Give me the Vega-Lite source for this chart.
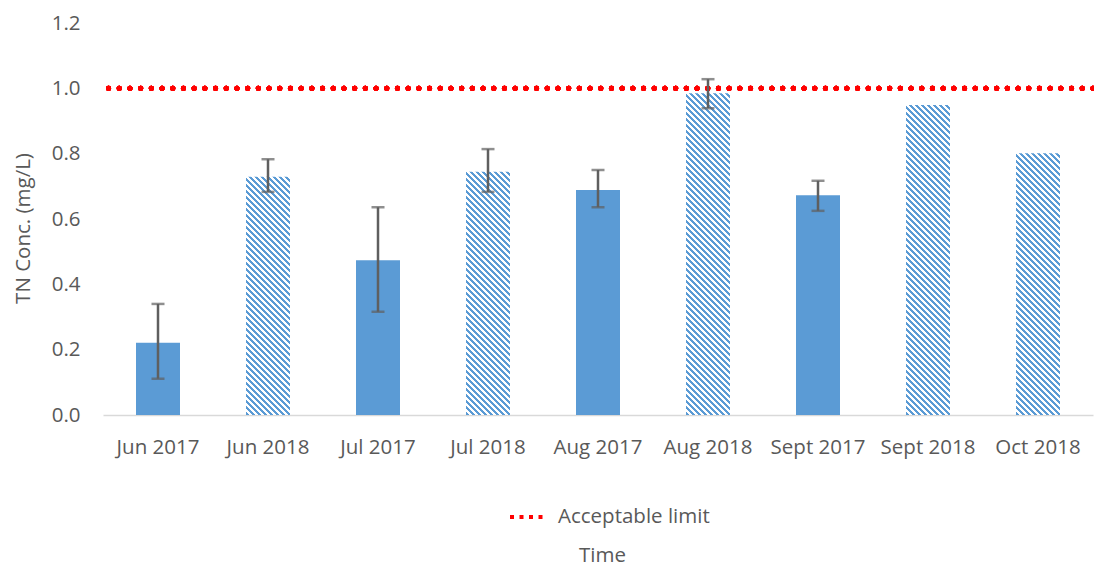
{
  "$schema": "https://vega.github.io/schema/vega-lite/v6.json",
  "autosize": "none",
  "width": 990,
  "height": 392,
  "padding": {"left": 103, "top": 23, "right": 1, "bottom": 156},
  "background": "white",
  "config": {
    "view": {"stroke": null},
    "font": "Open Sans",
    "axis": {"labelColor": "#595959", "titleColor": "#595959", "labelFontSize": 20.5, "titleFontSize": 20.5, "titleFontWeight": "normal", "grid": false, "ticks": false},
    "legend": {"labelColor": "#595959", "labelFontSize": 20.5}
  },
  "data": {
    "values": [
      {"month": "Jun 2017", "year": 2017, "tn": 0.221, "lo": 0.111, "hi": 0.340},
      {"month": "Jun 2018", "year": 2018, "tn": 0.729, "lo": 0.683, "hi": 0.783},
      {"month": "Jul 2017", "year": 2017, "tn": 0.474, "lo": 0.316, "hi": 0.636},
      {"month": "Jul 2018", "year": 2018, "tn": 0.745, "lo": 0.683, "hi": 0.814},
      {"month": "Aug 2017", "year": 2017, "tn": 0.689, "lo": 0.636, "hi": 0.750},
      {"month": "Aug 2018", "year": 2018, "tn": 0.985, "lo": 0.939, "hi": 1.028},
      {"month": "Sept 2017", "year": 2017, "tn": 0.673, "lo": 0.625, "hi": 0.717},
      {"month": "Sept 2018", "year": 2018, "tn": 0.949, "lo": null, "hi": null},
      {"month": "Oct 2018", "year": 2018, "tn": 0.801, "lo": null, "hi": null}
    ]
  },
  "layer": [
    {
      "transform": [{"filter": "datum.year === 2017"}],
      "mark": {"type": "bar", "width": {"band": 0.4}, "fill": "#5b9bd5"},
      "encoding": {
        "x": {
          "field": "month", "type": "nominal",
          "sort": ["Jun 2017", "Jun 2018", "Jul 2017", "Jul 2018", "Aug 2017", "Aug 2018", "Sept 2017", "Sept 2018", "Oct 2018"],
          "scale": {"domain": ["Jun 2017", "Jun 2018", "Jul 2017", "Jul 2018", "Aug 2017", "Aug 2018", "Sept 2017", "Sept 2018", "Oct 2018"], "paddingInner": 0, "paddingOuter": 0},
          "axis": {"title": "Time", "labelAngle": 0, "labelPadding": 22, "domainColor": "#d9d9d9", "domainWidth": 1.5, "titleX": 499, "titleY": 140, "titleBaseline": "middle", "titleAlign": "center"}
        },
        "y": {
          "field": "tn", "type": "quantitative",
          "scale": {"domain": [0, 1.2], "nice": false},
          "axis": {"title": "TN Conc. (mg/L)", "values": [0, 0.2, 0.4, 0.6, 0.8, 1.0, 1.2], "format": ".1f", "domain": false, "labelPadding": 23, "titleX": -80, "titleY": 205, "titleAngle": -90, "titleAlign": "center", "titleBaseline": "middle"}
        }
      }
    },
    {
      "transform": [{"filter": "datum.year === 2018"}],
      "mark": {
        "type": "bar", "width": {"band": 0.4},
        "fill": {
          "gradient": "linear", "x1": 0, "y1": 1, "x2": 0.136755, "y2": -0.10669,
          "stops": [
            {"offset":0,"color":"#5b9bd5"},
            {"offset":0.0075,"color":"#5b9bd5"},{"offset":0.0075,"color":"#ffffff"},
            {"offset":0.015,"color":"#ffffff"},{"offset":0.015,"color":"#5b9bd5"},
            {"offset":0.0225,"color":"#5b9bd5"},{"offset":0.0225,"color":"#ffffff"},
            {"offset":0.03,"color":"#ffffff"},{"offset":0.03,"color":"#5b9bd5"},
            {"offset":0.0375,"color":"#5b9bd5"},{"offset":0.0375,"color":"#ffffff"},
            {"offset":0.045,"color":"#ffffff"},{"offset":0.045,"color":"#5b9bd5"},
            {"offset":0.0525,"color":"#5b9bd5"},{"offset":0.0525,"color":"#ffffff"},
            {"offset":0.06,"color":"#ffffff"},{"offset":0.06,"color":"#5b9bd5"},
            {"offset":0.0675,"color":"#5b9bd5"},{"offset":0.0675,"color":"#ffffff"},
            {"offset":0.075,"color":"#ffffff"},{"offset":0.075,"color":"#5b9bd5"},
            {"offset":0.0825,"color":"#5b9bd5"},{"offset":0.0825,"color":"#ffffff"},
            {"offset":0.09,"color":"#ffffff"},{"offset":0.09,"color":"#5b9bd5"},
            {"offset":0.0975,"color":"#5b9bd5"},{"offset":0.0975,"color":"#ffffff"},
            {"offset":0.105,"color":"#ffffff"},{"offset":0.105,"color":"#5b9bd5"},
            {"offset":0.1125,"color":"#5b9bd5"},{"offset":0.1125,"color":"#ffffff"},
            {"offset":0.12,"color":"#ffffff"},{"offset":0.12,"color":"#5b9bd5"},
            {"offset":0.1275,"color":"#5b9bd5"},{"offset":0.1275,"color":"#ffffff"},
            {"offset":0.135,"color":"#ffffff"},{"offset":0.135,"color":"#5b9bd5"},
            {"offset":0.1425,"color":"#5b9bd5"},{"offset":0.1425,"color":"#ffffff"},
            {"offset":0.15,"color":"#ffffff"},{"offset":0.15,"color":"#5b9bd5"},
            {"offset":0.1575,"color":"#5b9bd5"},{"offset":0.1575,"color":"#ffffff"},
            {"offset":0.165,"color":"#ffffff"},{"offset":0.165,"color":"#5b9bd5"},
            {"offset":0.1725,"color":"#5b9bd5"},{"offset":0.1725,"color":"#ffffff"},
            {"offset":0.18,"color":"#ffffff"},{"offset":0.18,"color":"#5b9bd5"},
            {"offset":0.1875,"color":"#5b9bd5"},{"offset":0.1875,"color":"#ffffff"},
            {"offset":0.195,"color":"#ffffff"},{"offset":0.195,"color":"#5b9bd5"},
            {"offset":0.2025,"color":"#5b9bd5"},{"offset":0.2025,"color":"#ffffff"},
            {"offset":0.21,"color":"#ffffff"},{"offset":0.21,"color":"#5b9bd5"},
            {"offset":0.2175,"color":"#5b9bd5"},{"offset":0.2175,"color":"#ffffff"},
            {"offset":0.225,"color":"#ffffff"},{"offset":0.225,"color":"#5b9bd5"},
            {"offset":0.2325,"color":"#5b9bd5"},{"offset":0.2325,"color":"#ffffff"},
            {"offset":0.24,"color":"#ffffff"},{"offset":0.24,"color":"#5b9bd5"},
            {"offset":0.2475,"color":"#5b9bd5"},{"offset":0.2475,"color":"#ffffff"},
            {"offset":0.255,"color":"#ffffff"},{"offset":0.255,"color":"#5b9bd5"},
            {"offset":0.2625,"color":"#5b9bd5"},{"offset":0.2625,"color":"#ffffff"},
            {"offset":0.27,"color":"#ffffff"},{"offset":0.27,"color":"#5b9bd5"},
            {"offset":0.2775,"color":"#5b9bd5"},{"offset":0.2775,"color":"#ffffff"},
            {"offset":0.285,"color":"#ffffff"},{"offset":0.285,"color":"#5b9bd5"},
            {"offset":0.2925,"color":"#5b9bd5"},{"offset":0.2925,"color":"#ffffff"},
            {"offset":0.3,"color":"#ffffff"},{"offset":0.3,"color":"#5b9bd5"},
            {"offset":0.3075,"color":"#5b9bd5"},{"offset":0.3075,"color":"#ffffff"},
            {"offset":0.315,"color":"#ffffff"},{"offset":0.315,"color":"#5b9bd5"},
            {"offset":0.3225,"color":"#5b9bd5"},{"offset":0.3225,"color":"#ffffff"},
            {"offset":0.33,"color":"#ffffff"},{"offset":0.33,"color":"#5b9bd5"},
            {"offset":0.3375,"color":"#5b9bd5"},{"offset":0.3375,"color":"#ffffff"},
            {"offset":0.345,"color":"#ffffff"},{"offset":0.345,"color":"#5b9bd5"},
            {"offset":0.3525,"color":"#5b9bd5"},{"offset":0.3525,"color":"#ffffff"},
            {"offset":0.36,"color":"#ffffff"},{"offset":0.36,"color":"#5b9bd5"},
            {"offset":0.3675,"color":"#5b9bd5"},{"offset":0.3675,"color":"#ffffff"},
            {"offset":0.375,"color":"#ffffff"},{"offset":0.375,"color":"#5b9bd5"},
            {"offset":0.3825,"color":"#5b9bd5"},{"offset":0.3825,"color":"#ffffff"},
            {"offset":0.39,"color":"#ffffff"},{"offset":0.39,"color":"#5b9bd5"},
            {"offset":0.3975,"color":"#5b9bd5"},{"offset":0.3975,"color":"#ffffff"},
            {"offset":0.405,"color":"#ffffff"},{"offset":0.405,"color":"#5b9bd5"},
            {"offset":0.4125,"color":"#5b9bd5"},{"offset":0.4125,"color":"#ffffff"},
            {"offset":0.42,"color":"#ffffff"},{"offset":0.42,"color":"#5b9bd5"},
            {"offset":0.4275,"color":"#5b9bd5"},{"offset":0.4275,"color":"#ffffff"},
            {"offset":0.435,"color":"#ffffff"},{"offset":0.435,"color":"#5b9bd5"},
            {"offset":0.4425,"color":"#5b9bd5"},{"offset":0.4425,"color":"#ffffff"},
            {"offset":0.45,"color":"#ffffff"},{"offset":0.45,"color":"#5b9bd5"},
            {"offset":0.4575,"color":"#5b9bd5"},{"offset":0.4575,"color":"#ffffff"},
            {"offset":0.465,"color":"#ffffff"},{"offset":0.465,"color":"#5b9bd5"},
            {"offset":0.4725,"color":"#5b9bd5"},{"offset":0.4725,"color":"#ffffff"},
            {"offset":0.48,"color":"#ffffff"},{"offset":0.48,"color":"#5b9bd5"},
            {"offset":0.4875,"color":"#5b9bd5"},{"offset":0.4875,"color":"#ffffff"},
            {"offset":0.495,"color":"#ffffff"},{"offset":0.495,"color":"#5b9bd5"},
            {"offset":0.5025,"color":"#5b9bd5"},{"offset":0.5025,"color":"#ffffff"},
            {"offset":0.51,"color":"#ffffff"},{"offset":0.51,"color":"#5b9bd5"},
            {"offset":0.5175,"color":"#5b9bd5"},{"offset":0.5175,"color":"#ffffff"},
            {"offset":0.525,"color":"#ffffff"},{"offset":0.525,"color":"#5b9bd5"},
            {"offset":0.5325,"color":"#5b9bd5"},{"offset":0.5325,"color":"#ffffff"},
            {"offset":0.54,"color":"#ffffff"},{"offset":0.54,"color":"#5b9bd5"},
            {"offset":0.5475,"color":"#5b9bd5"},{"offset":0.5475,"color":"#ffffff"},
            {"offset":0.555,"color":"#ffffff"},{"offset":0.555,"color":"#5b9bd5"},
            {"offset":0.5625,"color":"#5b9bd5"},{"offset":0.5625,"color":"#ffffff"},
            {"offset":0.57,"color":"#ffffff"},{"offset":0.57,"color":"#5b9bd5"},
            {"offset":0.5775,"color":"#5b9bd5"},{"offset":0.5775,"color":"#ffffff"},
            {"offset":0.585,"color":"#ffffff"},{"offset":0.585,"color":"#5b9bd5"},
            {"offset":0.5925,"color":"#5b9bd5"},{"offset":0.5925,"color":"#ffffff"},
            {"offset":0.6,"color":"#ffffff"},{"offset":0.6,"color":"#5b9bd5"},
            {"offset":0.6075,"color":"#5b9bd5"},{"offset":0.6075,"color":"#ffffff"},
            {"offset":0.615,"color":"#ffffff"},{"offset":0.615,"color":"#5b9bd5"},
            {"offset":0.6225,"color":"#5b9bd5"},{"offset":0.6225,"color":"#ffffff"},
            {"offset":0.63,"color":"#ffffff"},{"offset":0.63,"color":"#5b9bd5"},
            {"offset":0.6375,"color":"#5b9bd5"},{"offset":0.6375,"color":"#ffffff"},
            {"offset":0.645,"color":"#ffffff"},{"offset":0.645,"color":"#5b9bd5"},
            {"offset":0.6525,"color":"#5b9bd5"},{"offset":0.6525,"color":"#ffffff"},
            {"offset":0.66,"color":"#ffffff"},{"offset":0.66,"color":"#5b9bd5"},
            {"offset":0.6675,"color":"#5b9bd5"},{"offset":0.6675,"color":"#ffffff"},
            {"offset":0.675,"color":"#ffffff"},{"offset":0.675,"color":"#5b9bd5"},
            {"offset":0.6825,"color":"#5b9bd5"},{"offset":0.6825,"color":"#ffffff"},
            {"offset":0.69,"color":"#ffffff"},{"offset":0.69,"color":"#5b9bd5"},
            {"offset":0.6975,"color":"#5b9bd5"},{"offset":0.6975,"color":"#ffffff"},
            {"offset":0.705,"color":"#ffffff"},{"offset":0.705,"color":"#5b9bd5"},
            {"offset":0.7125,"color":"#5b9bd5"},{"offset":0.7125,"color":"#ffffff"},
            {"offset":0.72,"color":"#ffffff"},{"offset":0.72,"color":"#5b9bd5"},
            {"offset":0.7275,"color":"#5b9bd5"},{"offset":0.7275,"color":"#ffffff"},
            {"offset":0.735,"color":"#ffffff"},{"offset":0.735,"color":"#5b9bd5"},
            {"offset":0.7425,"color":"#5b9bd5"},{"offset":0.7425,"color":"#ffffff"},
            {"offset":0.75,"color":"#ffffff"},{"offset":0.75,"color":"#5b9bd5"},
            {"offset":0.7575,"color":"#5b9bd5"},{"offset":0.7575,"color":"#ffffff"},
            {"offset":0.765,"color":"#ffffff"},{"offset":0.765,"color":"#5b9bd5"},
            {"offset":0.7725,"color":"#5b9bd5"},{"offset":0.7725,"color":"#ffffff"},
            {"offset":0.78,"color":"#ffffff"},{"offset":0.78,"color":"#5b9bd5"},
            {"offset":0.7875,"color":"#5b9bd5"},{"offset":0.7875,"color":"#ffffff"},
            {"offset":0.795,"color":"#ffffff"},{"offset":0.795,"color":"#5b9bd5"},
            {"offset":0.8025,"color":"#5b9bd5"},{"offset":0.8025,"color":"#ffffff"},
            {"offset":0.81,"color":"#ffffff"},{"offset":0.81,"color":"#5b9bd5"},
            {"offset":0.8175,"color":"#5b9bd5"},{"offset":0.8175,"color":"#ffffff"},
            {"offset":0.825,"color":"#ffffff"},{"offset":0.825,"color":"#5b9bd5"},
            {"offset":0.8325,"color":"#5b9bd5"},{"offset":0.8325,"color":"#ffffff"},
            {"offset":0.84,"color":"#ffffff"},{"offset":0.84,"color":"#5b9bd5"},
            {"offset":0.8475,"color":"#5b9bd5"},{"offset":0.8475,"color":"#ffffff"},
            {"offset":0.855,"color":"#ffffff"},{"offset":0.855,"color":"#5b9bd5"},
            {"offset":0.8625,"color":"#5b9bd5"},{"offset":0.8625,"color":"#ffffff"},
            {"offset":0.87,"color":"#ffffff"},{"offset":0.87,"color":"#5b9bd5"},
            {"offset":0.8775,"color":"#5b9bd5"},{"offset":0.8775,"color":"#ffffff"},
            {"offset":0.885,"color":"#ffffff"},{"offset":0.885,"color":"#5b9bd5"},
            {"offset":0.8925,"color":"#5b9bd5"},{"offset":0.8925,"color":"#ffffff"},
            {"offset":0.9,"color":"#ffffff"},{"offset":0.9,"color":"#5b9bd5"},
            {"offset":0.9075,"color":"#5b9bd5"},{"offset":0.9075,"color":"#ffffff"},
            {"offset":0.915,"color":"#ffffff"},{"offset":0.915,"color":"#5b9bd5"},
            {"offset":0.9225,"color":"#5b9bd5"},{"offset":0.9225,"color":"#ffffff"},
            {"offset":0.93,"color":"#ffffff"},{"offset":0.93,"color":"#5b9bd5"},
            {"offset":0.9375,"color":"#5b9bd5"},{"offset":0.9375,"color":"#ffffff"},
            {"offset":0.945,"color":"#ffffff"},{"offset":0.945,"color":"#5b9bd5"},
            {"offset":0.9525,"color":"#5b9bd5"},{"offset":0.9525,"color":"#ffffff"},
            {"offset":0.96,"color":"#ffffff"},{"offset":0.96,"color":"#5b9bd5"},
            {"offset":0.9675,"color":"#5b9bd5"},{"offset":0.9675,"color":"#ffffff"},
            {"offset":0.975,"color":"#ffffff"},{"offset":0.975,"color":"#5b9bd5"},
            {"offset":0.9825,"color":"#5b9bd5"},{"offset":0.9825,"color":"#ffffff"},
            {"offset":0.99,"color":"#ffffff"},{"offset":0.99,"color":"#5b9bd5"},
            {"offset":0.9975,"color":"#5b9bd5"},{"offset":0.9975,"color":"#ffffff"},
            {"offset":1,"color":"#ffffff"}
          ]
        }
      },
      "encoding": {
        "x": {"field": "month", "type": "nominal"},
        "y": {"datum": 1.09, "type": "quantitative"},
        "y2": {"datum": 0}
      }
    },
    {
      "transform": [{"filter": "datum.year === 2018"}],
      "mark": {"type": "bar", "width": {"band": 0.46}, "fill": "white"},
      "encoding": {
        "x": {"field": "month", "type": "nominal"},
        "y": {"field": "tn", "type": "quantitative"},
        "y2": {"datum": 1.2}
      }
    },
    {
      "mark": {"type": "rule", "strokeDash": [0.1, 10.6], "strokeCap": "round", "strokeWidth": 5},
      "encoding": {
        "y": {"datum": 1.0, "type": "quantitative"},
        "stroke": {
          "datum": "Acceptable limit", "type": "nominal",
          "scale": {"range": ["#ff0000"]},
          "legend": {"title": null, "orient": "none", "legendX": 405, "legendY": 473, "padding": 0, "symbolType": "stroke", "symbolSize": 1444, "symbolStrokeWidth": 4, "symbolDash": [4, 5.5], "labelOffset": 8}
        }
      }
    },
    {
      "transform": [{"filter": "datum.lo != null"}],
      "mark": {"type": "rule", "color": "#5f5f5f", "strokeWidth": 2.5},
      "encoding": {
        "x": {"field": "month", "type": "nominal"},
        "y": {"field": "lo", "type": "quantitative"},
        "y2": {"field": "hi"}
      }
    },
    {
      "transform": [{"filter": "datum.lo != null"}],
      "mark": {"type": "tick", "color": "#5f5f5f", "size": 13, "thickness": 2.5},
      "encoding": {
        "x": {"field": "month", "type": "nominal"},
        "y": {"field": "lo", "type": "quantitative"}
      }
    },
    {
      "transform": [{"filter": "datum.hi != null"}],
      "mark": {"type": "tick", "color": "#5f5f5f", "size": 13, "thickness": 2.5},
      "encoding": {
        "x": {"field": "month", "type": "nominal"},
        "y": {"field": "hi", "type": "quantitative"}
      }
    }
  ]
}
